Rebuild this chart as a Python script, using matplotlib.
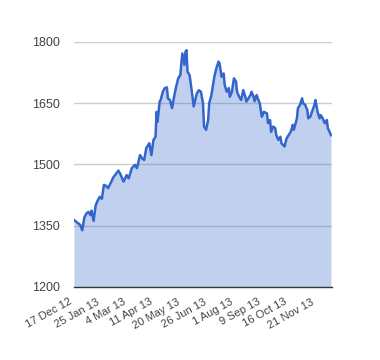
import matplotlib
matplotlib.use("Agg")
import matplotlib.pyplot as plt
from matplotlib.transforms import ScaledTranslation

# trading-day index (0 = 17 Dec 12) and closing value
day_index = [0, 2, 4, 6, 8, 10, 12, 14, 16, 17, 19, 21, 23, 25, 27, 29, 31, 33, 35, 38,
             41, 43, 45, 48, 51, 53, 56, 59, 61, 64, 66, 68, 70, 73, 75, 77, 79, 80, 81, 83,
             84, 86, 88, 90, 91, 93, 95, 97, 99, 101, 103, 104, 105, 107, 108, 109, 110, 112, 114, 116,
             119, 121, 123, 125, 126, 128, 130, 131, 133, 136, 138, 140, 141, 143, 145, 146, 148, 150, 151, 153,
             155, 157, 158, 160, 162, 164, 166, 167, 169, 171, 172, 174, 175, 177, 178, 180, 182, 184, 187, 188,
             190, 191, 193, 195, 196, 198, 200, 201, 204, 206, 208, 210, 212, 213, 216, 217, 219, 221, 222, 224,
             226, 227, 229, 230, 233, 234, 236, 238, 239, 241, 243, 245, 246, 249]
values = [1364, 1360, 1356, 1352, 1339, 1370, 1380, 1384, 1376, 1387, 1362, 1400, 1412, 1421, 1416, 1450, 1448, 1442, 1452, 1468,
          1478, 1485, 1476, 1458, 1474, 1466, 1491, 1499, 1491, 1523, 1515, 1511, 1540, 1552, 1523, 1560, 1568, 1629, 1605, 1654,
          1658, 1678, 1687, 1689, 1662, 1658, 1638, 1666, 1691, 1711, 1719, 1748, 1772, 1744, 1776, 1780, 1727, 1719, 1682, 1642,
          1674, 1682, 1678, 1650, 1593, 1585, 1609, 1650, 1668, 1715, 1736, 1752, 1748, 1715, 1723, 1695, 1678, 1687, 1666, 1678,
          1711, 1703, 1678, 1666, 1658, 1682, 1666, 1654, 1662, 1670, 1678, 1666, 1655, 1670, 1662, 1650, 1617, 1629, 1625, 1601,
          1609, 1580, 1593, 1589, 1572, 1560, 1568, 1552, 1544, 1564, 1572, 1580, 1597, 1585, 1613, 1638, 1646, 1662, 1650, 1646,
          1634, 1613, 1617, 1625, 1646, 1658, 1629, 1613, 1621, 1613, 1601, 1609, 1589, 1572]

tick_index = [0, 26, 52, 78, 104, 130, 156, 182, 208, 234]
tick_labels = ["17 Dec 12", "25 Jan 13", "4 Mar 13", "11 Apr 13", "20 May 13",
               "26 Jun 13", "1 Aug 13", "9 Sep 13", "16 Oct 13", "21 Nov 13"]
y_ticks = [1200, 1350, 1500, 1650, 1800]

plt.rcParams['font.family'] = ['Liberation Sans', 'DejaVu Sans']

fig = plt.figure(figsize=(3.8, 3.6), dpi=100)
ax = fig.add_axes([74/380, 1-287/360, 258/380, 245/360])

for yt in y_ticks[1:]:
    ax.axhline(yt, color='#cccccc', linewidth=1.0, zorder=0)

ax.fill_between(day_index, values, 1200, color='#3366cc', alpha=0.3, linewidth=0, zorder=1)
ax.plot(day_index, values, color='#3366cc', linewidth=1.8, zorder=2, solid_joinstyle='round')

ax.set_xlim(0, 250)
ax.set_ylim(1200, 1800)
ax.set_yticks(y_ticks)
ax.set_yticklabels([str(v) for v in y_ticks], fontsize=9)
ax.set_xticks(tick_index)
ax.set_xticklabels(tick_labels, rotation=29, ha='right', va='top', fontsize=8)

offset = ScaledTranslation(7/100, 1/100, fig.dpi_scale_trans)
for lbl in ax.get_xticklabels():
    lbl.set_transform(lbl.get_transform() + offset)

ax.tick_params(axis='both', length=0, labelcolor='#444444')
ax.tick_params(axis='y', pad=10)
ax.tick_params(axis='x', pad=7)

for s in ['top', 'right', 'left']:
    ax.spines[s].set_visible(False)
ax.spines['bottom'].set_color('#333333')
ax.spines['bottom'].set_linewidth(1.0)
ax.spines['bottom'].set_zorder(3)

fig.savefig('out.png', dpi=100)
